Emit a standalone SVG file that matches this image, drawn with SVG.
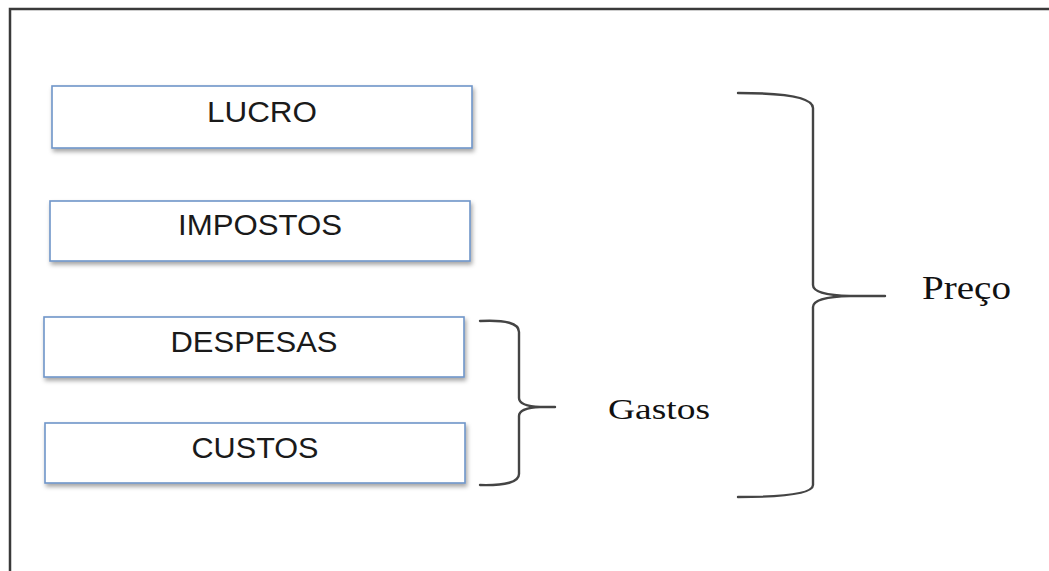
<svg xmlns="http://www.w3.org/2000/svg" width="1049" height="571" viewBox="0 0 1049 571">
<defs>
<filter id="sh" x="-5%" y="-20%" width="110%" height="150%">
<feDropShadow dx="1.5" dy="3" stdDeviation="2" flood-color="#000" flood-opacity="0.35"/>
</filter>
<style>
.box{fill:#fff;stroke:#6F95C9;stroke-width:1.6;filter:url(#sh)}
.lbl{font-family:"Liberation Sans",Arial,sans-serif;font-size:30px;fill:#1a1a1a;text-anchor:middle}
.ser{font-family:"Liberation Serif","Times New Roman",serif;fill:#111}
.br{fill:none;stroke:#444;stroke-width:2.4;stroke-linecap:round}
</style>
</defs>
<rect width="1049" height="571" fill="#fff"/>
<path d="M10 571 V9 H1049" fill="none" stroke="#3a3a3a" stroke-width="2.5"/>
<g id="lucro"><rect class="box" x="52" y="86" width="420" height="62"/><text class="lbl" x="262" y="122" textLength="110" lengthAdjust="spacingAndGlyphs">LUCRO</text></g>
<g id="impostos"><rect class="box" x="50" y="201" width="420" height="60"/><text class="lbl" x="260" y="235" textLength="164" lengthAdjust="spacingAndGlyphs">IMPOSTOS</text></g>
<g id="despesas"><rect class="box" x="44" y="317" width="420" height="60"/><text class="lbl" x="254" y="352" textLength="167" lengthAdjust="spacingAndGlyphs">DESPESAS</text></g>
<g id="custos"><rect class="box" x="45" y="423" width="420" height="60"/><text class="lbl" x="255" y="458" textLength="127" lengthAdjust="spacingAndGlyphs">CUSTOS</text></g>
<g id="connectors">
<path class="br" d="M480 321 Q519 319 519 332 V398 Q519 406 540 407 H555 M540 407 Q519 408 519 416 V474 Q519 486 480 485"/>
<path class="br" d="M738 93 Q813 93 813 108 V285 Q813 295 850 296 H885 M850 296 Q813 297 813 307 V485 Q813 497 738 497"/>
</g>
<g id="gastos"><text class="ser" x="608" y="419" font-size="29" textLength="102" lengthAdjust="spacingAndGlyphs">Gastos</text></g>
<g id="preco"><text class="ser" x="922" y="299" font-size="33" textLength="89" lengthAdjust="spacingAndGlyphs">Preço</text></g>
</svg>
